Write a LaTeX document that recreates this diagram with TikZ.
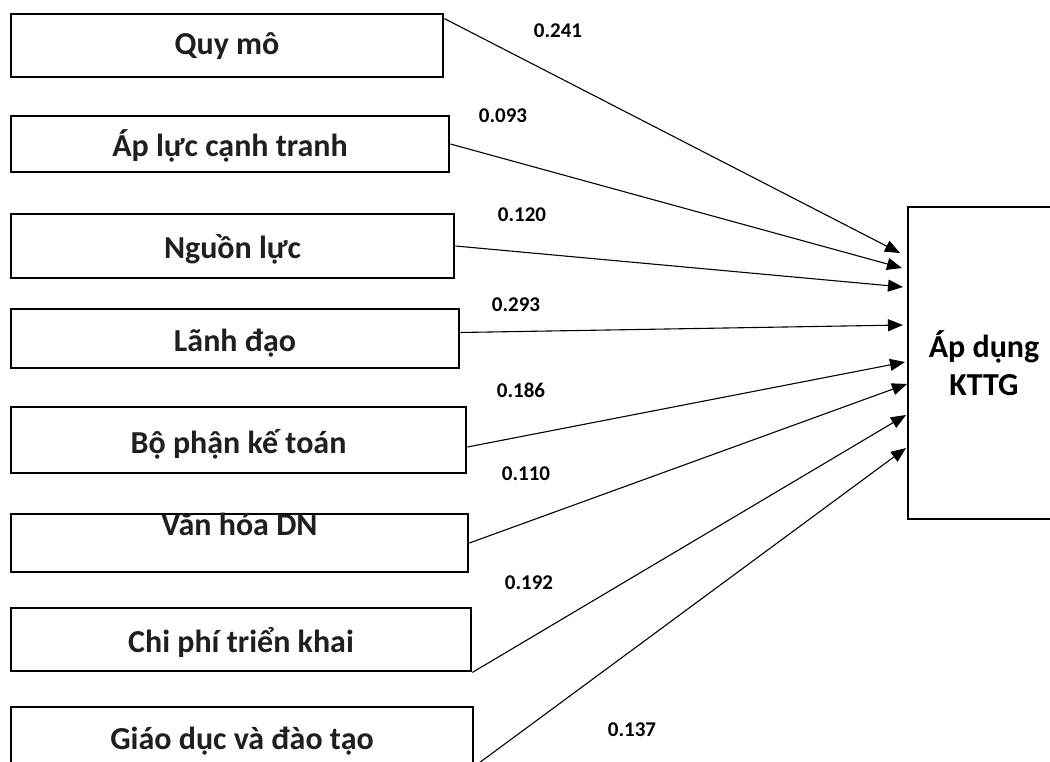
\documentclass[tikz,border=0pt]{standalone}
\usepackage{fontspec}
\setmainfont{Carlito}
\usetikzlibrary{arrows.meta,calc}
\begin{document}
\begin{tikzpicture}[x=1pt,y=-1pt,
  box/.style={draw=black,line width=2.8pt,inner sep=0pt,align=center,
    font=\bfseries\fontsize{32}{38}\selectfont,text=black!88,
    text height=29pt,text depth=3pt},
  coef/.style={font=\bfseries\fontsize{21}{24}\selectfont,inner sep=0pt},
  conn/.style={line width=1.1pt,-{Triangle[length=15pt,width=12pt]}}]
\path[use as bounding box] (0,0) rectangle (1050,762);
\clip (0,0) rectangle (1050,762);
\fill[white] (0,0) rectangle (1050,762);
% boxes
\node[box,minimum width=432pt,minimum height=63pt,text height=22pt] (b1) at (227,45.5) {Quy mô};
\node[box,minimum width=438pt,minimum height=56pt] (b2) at (230,144) {Áp lực cạnh tranh};
\node[box,minimum width=443pt,minimum height=64pt] (b3) at (232.5,246) {Nguồn lực};
\node[box,minimum width=448pt,minimum height=59pt] (b4) at (235,338.5) {Lãnh đạo};
\node[box,minimum width=455pt,minimum height=66pt] (b5) at (238.5,440) {Bộ phận kế toán};
\node[box,minimum width=457pt,minimum height=58pt] (b6) at (239.5,543) {};
\node[font=\bfseries\fontsize{32}{38}\selectfont,text=black!88,inner sep=0pt,anchor=base] (b6t) at (239.5,535) {Văn hóa DN};
\node[box,minimum width=460pt,minimum height=63pt] (b7) at (241,639.5) {Chi phí triển khai};
\node[box,minimum width=462pt,minimum height=58pt] (b8) at (242,736) {Giáo dục và đào tạo};
\node[box,minimum width=152pt,minimum height=312pt,text=black,text height=,text depth=] (k) at (984,363) {Áp dụng\\KTTG};
% arrow end points
\coordinate (t1) at (900,253);
\coordinate (t2) at (902,268);
\coordinate (t3) at (903,287);
\coordinate (t4) at (903,325);
\coordinate (t5) at (905,362);
\coordinate (t6) at (907,384);
\coordinate (t7) at (906,415);
\coordinate (t8) at (906,448);
% connectors
\draw[conn] ($(b1.north east)+(0,6)$) -- (t1);
\draw[conn] (b2.east) -- (t2);
\draw[conn] (b3.east) -- (t3);
\draw[conn] ($(b4.east)+(0,-6)$) -- (t4);
\draw[conn] ($(b5.east)+(0,7)$) -- (t5);
\draw[conn] (b6.east) -- (t6);
\draw[conn] (b7.south east) -- (t7);
\draw[conn] (b8.south east) -- (t8);
% coefficients
\node[coef] (c1) at (558,31) {0.241};
\node[coef] (c2) at (503,116) {0.093};
\node[coef] (c3) at (522,215) {0.120};
\node[coef] (c4) at (516,305) {0.293};
\node[coef] (c5) at (521,390) {0.186};
\node[coef] (c6) at (526,474) {0.110};
\node[coef] (c7) at (529,583) {0.192};
\node[coef] (c8) at (632,730) {0.137};
\end{tikzpicture}
\end{document}
